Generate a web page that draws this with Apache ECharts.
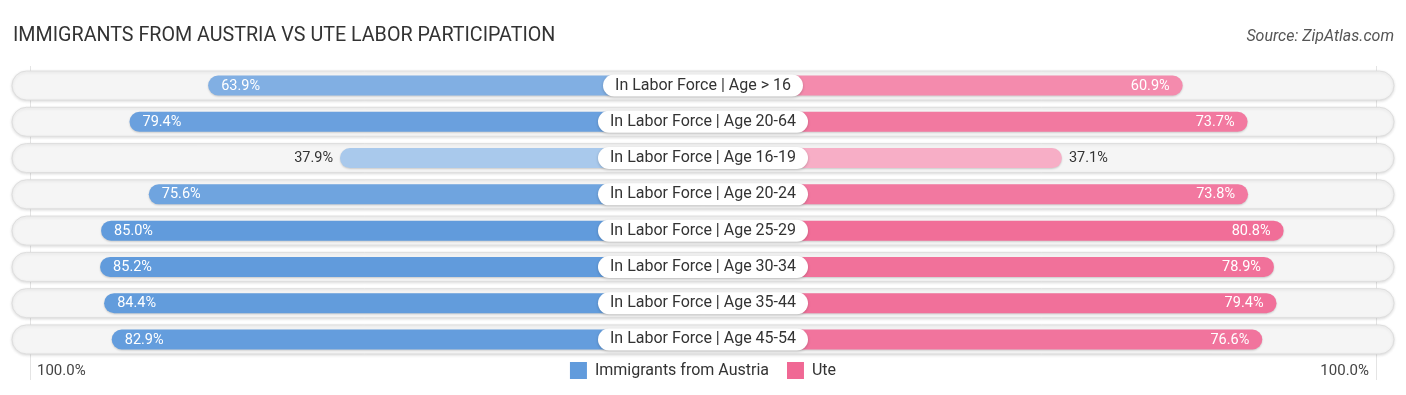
<!DOCTYPE html>
<html>
<head>
<meta charset="utf-8">
<script src="https://cdn.jsdelivr.net/npm/echarts@6/dist/echarts.min.js"></script>
<style>
html,body{margin:0;padding:0;background:#fff;}
#chart{width:1406px;height:395px;}
</style>
</head>
<body>
<div id="chart"></div>
<script>
const categories = [
  'In Labor Force | Age > 16',
  'In Labor Force | Age 20-64',
  'In Labor Force | Age 16-19',
  'In Labor Force | Age 20-24',
  'In Labor Force | Age 25-29',
  'In Labor Force | Age 30-34',
  'In Labor Force | Age 35-44',
  'In Labor Force | Age 45-54'
];
const austria = [63.9, 79.4, 37.9, 75.6, 85.0, 85.2, 84.4, 82.9];
const ute = [60.9, 73.7, 37.1, 73.8, 80.8, 78.9, 79.4, 76.6];
const seriesNames = ['Immigrants from Austria', 'Ute'];
const tickLabels = ['100.0%', '100.0%'];

const OFFSET = 33.65;             // part of each bar hidden under the centre label
const AXIS_MAX = 100 + OFFSET;
const BLUE = [97, 155, 220];
const PINK = [240, 104, 148];

function shade(base, v) {
  const t = Math.max(0, Math.min(1, (85 - v) / 100)) * 0.97;
  const c = base.map(x => Math.round(x + (255 - x) * t));
  return 'rgb(' + c.join(',') + ')';
}

function barItem(side, base) {
  return function (params, api) {
    const v = api.value(0);
    const i = api.value(1);
    const pc = api.coord([0, i]);
    const pe = api.coord([side * (OFFSET + v), i]);
    const h = 20;
    const x0 = Math.min(pc[0], pe[0]);
    const w = Math.abs(pe[0] - pc[0]);
    const inside = v > 45;
    const label = v.toFixed(1) + '%';
    let tx, align, fill;
    if (side < 0) {
      if (inside) { tx = pe[0] + 13; align = 'left'; fill = '#fff'; }
      else { tx = pe[0] - 7; align = 'right'; fill = '#333'; }
    } else {
      if (inside) { tx = pe[0] - 13; align = 'right'; fill = '#fff'; }
      else { tx = pe[0] + 7; align = 'left'; fill = '#333'; }
    }
    return {
      type: 'group',
      children: [
        {
          type: 'rect',
          shape: { x: x0, y: pc[1] - h / 2, width: w, height: h, r: side < 0 ? [10, 0, 0, 10] : [0, 10, 10, 0] },
          style: { fill: shade(base, v), shadowBlur: 2, shadowColor: 'rgba(0,0,0,0.18)', shadowOffsetY: 1 }
        },
        {
          type: 'text',
          style: {
            x: tx, y: pc[1] + 0.5, text: label, align: align, verticalAlign: 'middle',
            fill: fill, font: '14.5px Roboto'
          }
        }
      ]
    };
  };
}

const chart = echarts.init(document.getElementById('chart'), null, { renderer: 'canvas' });

const option = {
  animation: false,
  backgroundColor: '#fff',
  title: [
    {
      text: 'IMMIGRANTS FROM AUSTRIA VS UTE LABOR PARTICIPATION',
      left: 8, top: 21,
      textStyle: { fontFamily: 'Roboto', fontWeight: 'normal', fontSize: 19.7, color: '#333' }
    },
    {
      text: 'Source: ZipAtlas.com',
      right: 7, top: 24,
      textStyle: { fontFamily: 'Roboto', fontWeight: 'normal', fontStyle: 'italic', fontSize: 16, color: '#555' }
    }
  ],
  legend: {
    data: seriesNames,
    top: 357,
    left: 'center',
    icon: 'rect',
    itemWidth: 17,
    itemHeight: 17,
    itemGap: 18,
    selectedMode: false,
    textStyle: { fontFamily: 'Roboto', fontSize: 16, color: '#333', padding: [0, 0, 0, 3] }
  },
  grid: { left: 25, right: 25, top: 67.4, bottom: 37.4 },
  xAxis: { type: 'value', min: -AXIS_MAX, max: AXIS_MAX, show: false },
  yAxis: { type: 'category', data: categories, inverse: true, show: false },
  graphic: [
    { type: 'line', shape: { x1: 30.5, y1: 66, x2: 30.5, y2: 380 }, style: { stroke: '#e4e4e4', lineWidth: 1 }, z: 0 },
    { type: 'line', shape: { x1: 1376.5, y1: 66, x2: 1376.5, y2: 380 }, style: { stroke: '#e4e4e4', lineWidth: 1 }, z: 0 },
    { type: 'text', left: 37, top: 364, style: { text: tickLabels[0], font: '15px Roboto', fill: '#444' } },
    { type: 'text', right: 37, top: 364, style: { text: tickLabels[1], font: '15px Roboto', fill: '#444' } }
  ],
  series: [
    {
      type: 'custom',
      name: 'bg',
      silent: true,
      z: 1,
      data: categories.map((c, i) => [0, i]),
      renderItem: function (params, api) {
        const i = api.value(1);
        const p = api.coord([0, i]);
        const cs = params.coordSys;
        const h = 29;
        return {
          type: 'rect',
          shape: { x: cs.x - 13, y: p[1] - h / 2, width: cs.width + 26, height: h, r: h / 2 },
          style: { fill: '#f5f5f5', stroke: '#dedede', lineWidth: 1, shadowBlur: 3, shadowColor: 'rgba(0,0,0,0.12)', shadowOffsetY: 1 }
        };
      }
    },
    {
      type: 'custom',
      name: seriesNames[0],
      z: 2,
      itemStyle: { color: 'rgb(97,155,220)' },
      data: austria.map((v, i) => [v, i]),
      renderItem: barItem(-1, BLUE)
    },
    {
      type: 'custom',
      name: seriesNames[1],
      z: 2,
      itemStyle: { color: 'rgb(240,104,148)' },
      data: ute.map((v, i) => [v, i]),
      renderItem: barItem(1, PINK)
    },
    {
      type: 'custom',
      name: 'labels',
      z: 3,
      silent: true,
      data: categories.map((c, i) => [0, i]),
      renderItem: function (params, api) {
        const i = api.value(1);
        const p = api.coord([0, i]);
        return {
          type: 'text',
          style: {
            x: p[0], y: p[1], text: categories[i], align: 'center', verticalAlign: 'middle',
            font: '16px Roboto', fill: '#333',
            backgroundColor: '#fff', padding: [3, 12, 3, 12], borderRadius: 11,
            shadowBlur: 3, shadowColor: 'rgba(0,0,0,0.2)', shadowOffsetY: 1
          }
        };
      }
    }
  ]
};
chart.setOption(option);
</script>
</body>
</html>
